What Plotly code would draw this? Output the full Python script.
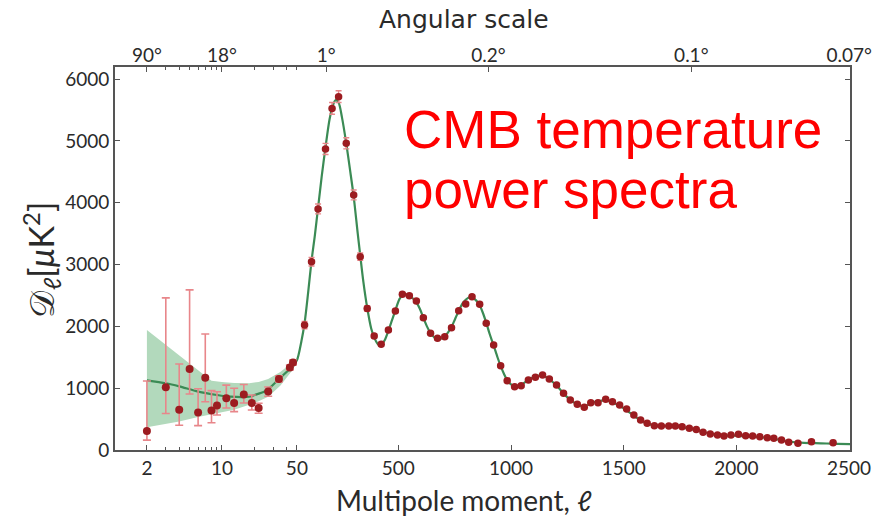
import math
import plotly.graph_objects as go

# ---- data -------------------------------------------------------------
# low multipoles: bandpower and the ends of each error bar
low_ell = [2, 3, 4, 5, 6, 7, 8, 9, 11, 13, 16, 19, 22, 27, 34, 43, 46]
low_D = [307, 1015, 652, 1310, 605, 1170, 640, 720, 838, 760, 898, 762, 680, 948, 1150, 1335, 1415]
low_top = [1116, 2460, 1390, 2590, 990, 1876, 960, 943, 1050, 1000, 1060, 890, 755, 1020, 1200, 1375, 1455]
low_bot = [160, 590, 400, 905, 395, 780, 440, 565, 680, 620, 760, 647, 594, 870, 1100, 1295, 1375]

# binned high multipoles
hi_ell = [84, 115, 144, 177, 206, 235, 269, 302, 331, 362, 393, 424, 456, 487, 518, 549,
          580, 611, 643, 674, 706, 736, 768, 799, 827, 861, 890, 923, 954, 983, 1016, 1045,
          1077, 1108, 1140, 1170, 1202, 1233, 1263, 1294, 1325, 1354, 1386, 1420, 1450, 1482,
          1513, 1545, 1575, 1604, 1636, 1667, 1700, 1729, 1759, 1791, 1822, 1852, 1884, 1916,
          1945, 1976, 2009, 2041, 2072, 2104, 2137, 2166, 2200, 2232, 2273, 2333, 2429]
hi_D = [2020, 3046, 3900, 4870, 5525, 5715, 4960, 4125, 3127, 2290, 1845, 1710, 1940, 2250,
        2518, 2496, 2410, 2140, 1887, 1806, 1833, 1979, 2254, 2361, 2480, 2357, 2050, 1699,
        1364, 1121, 1024, 1040, 1132, 1176, 1213, 1148, 1051, 917, 809, 739, 691, 765, 765,
        820, 782, 728, 663, 566, 485, 431, 393, 388, 388, 388, 377, 351, 330, 286, 257, 243,
        226, 243, 254, 232, 226, 216, 200, 189, 162, 124, 108, 135, 119]
hi_err = [60, 70, 80, 90, 95, 95, 90, 80, 60, 45, 35, 30, 30, 30, 30, 30, 30, 30, 28, 28,
          28, 28, 28, 28, 28, 28, 26, 26, 24, 24, 22, 22, 22, 22, 22, 22, 22, 20, 20, 20,
          20, 20, 20, 20, 20, 20, 20, 20, 20, 20, 20, 20, 20, 20, 20, 20, 20, 20, 20, 22,
          22, 22, 22, 22, 22, 24, 24, 24, 24, 26, 28, 30, 34]

# best-fit model curve
model_ell = [2, 3, 4, 6, 9, 12, 18, 21, 26, 34, 45, 50, 70, 84, 100, 115, 130, 144, 160, 177,
             195, 210, 222, 235, 250, 269, 285, 302, 320, 331, 345, 362, 380, 393, 410, 424,
             440, 456, 472, 487, 505, 520, 535, 549, 565, 580, 596, 611, 627, 643, 660, 674,
             690, 706, 720, 736, 752, 768, 785, 799, 815, 827, 845, 861, 875, 890, 905, 923,
             940, 954, 970, 983, 1000, 1016, 1030, 1045, 1060, 1077, 1092, 1108, 1125, 1140,
             1155, 1170, 1185, 1202, 1218, 1233, 1248, 1263, 1280, 1294, 1310, 1325, 1340,
             1354, 1370, 1386, 1403, 1420, 1435, 1450, 1466, 1482, 1498, 1513, 1530, 1545,
             1560, 1575, 1590, 1604, 1620, 1636, 1650, 1667, 1685, 1700, 1730, 1760, 1790,
             1820, 1850, 1880, 1910, 1945, 1980, 2010, 2040, 2070, 2100, 2140, 2180, 2220,
             2260, 2300, 2350, 2400, 2450, 2504]
model_D = [1127, 1080, 1030, 945, 890, 862, 862, 900, 960, 1148, 1347, 1450, 1760, 2050, 2550,
           3060, 3480, 3920, 4420, 4900, 5350, 5580, 5660, 5620, 5380, 4960, 4550, 4100, 3500,
           3150, 2720, 2300, 1960, 1820, 1710, 1700, 1780, 1930, 2100, 2260, 2440, 2510, 2520,
           2490, 2450, 2390, 2280, 2140, 2000, 1890, 1820, 1795, 1800, 1840, 1900, 1990, 2120,
           2250, 2370, 2430, 2470, 2470, 2420, 2340, 2220, 2060, 1880, 1690, 1500, 1360, 1220,
           1130, 1060, 1030, 1030, 1050, 1090, 1130, 1165, 1190, 1205, 1200, 1180, 1145, 1100,
           1045, 980, 915, 860, 810, 765, 735, 715, 710, 725, 750, 775, 790, 800, 800, 790,
           770, 745, 715, 680, 640, 595, 555, 515, 480, 450, 428, 410, 398, 392, 390, 388,
           385, 378, 365, 345, 320, 295, 270, 250, 237, 232, 230, 225, 218, 208, 192, 170,
           145, 125, 115, 110, 105, 100, 95]

# cosmic-variance band at low multipoles
band_ell = [2, 3, 4, 6, 8, 10, 13, 18, 22, 27, 35, 45, 50]
band_hi = [1940, 1700, 1530, 1290, 1120, 1100, 1085, 1080, 1100, 1150, 1260, 1410, 1470]
band_lo = [370, 420, 460, 535, 580, 615, 650, 730, 790, 860, 1040, 1280, 1420]

bottom_ticks = [2, 10, 50, 500, 1000, 1500, 2000, 2500]
minor_ticks = [3, 4, 5, 6, 7, 8, 9, 20, 30, 40]
top_tick_ell = [2, 10, 180, 900, 1800, 2500]
top_tick_text = ["90°", "18°", "1°", "0.2°", "0.1°", "0.07°"]
y_ticks = [0, 1000, 2000, 3000, 4000, 5000, 6000]


# ---- hybrid multipole scale: logarithmic below l=50, linear above ----
def lscale(ell):
    return ell if ell >= 50 else 50 + 476 * math.log10(ell / 50)


def tr(vals):
    return [lscale(v) for v in vals]


X_RANGE = [-757, 2504]
Y_RANGE = [0, 6195]

PT = "#9c1c20"
ERR = "#e8868a"
GREEN = "#3b8b55"
BAND = "#b2d9bc"
AXC = "#555555"
TXT = "#2a2a2a"
FONT = "Lato, DejaVu Sans, sans-serif"
TITLE_FONT = "DejaVu Sans, Lato, sans-serif"

fig = go.Figure()

fig.add_trace(go.Scatter(
    x=tr(band_ell) + tr(band_ell[::-1]), y=band_hi + band_lo[::-1],
    fill="toself", fillcolor=BAND, line=dict(width=0), mode="lines",
    hoverinfo="skip", showlegend=False))

fig.add_trace(go.Scatter(
    x=tr(model_ell), y=model_D, mode="lines",
    line=dict(color=GREEN, width=2.2, shape="spline", smoothing=0.8),
    showlegend=False))

fig.add_trace(go.Scatter(
    x=tr(low_ell), y=low_D, mode="markers",
    marker=dict(color=PT, size=8),
    error_y=dict(type="data", symmetric=False,
                 array=[t - d for t, d in zip(low_top, low_D)],
                 arrayminus=[d - b for d, b in zip(low_D, low_bot)],
                 color=ERR, thickness=1.6, width=4),
    showlegend=False))

fig.add_trace(go.Scatter(
    x=tr(hi_ell), y=hi_D, mode="markers",
    marker=dict(color=PT, size=7.5),
    error_y=dict(type="data", array=hi_err, color=ERR, thickness=1.4, width=3),
    showlegend=False))

# carrier for the angular-scale axis
fig.add_trace(go.Scatter(x=[X_RANGE[0]], y=[None], xaxis="x2", mode="markers",
                         showlegend=False, hoverinfo="skip"))

L, R, T, B = 115, 29, 67, 70
W, H = 884, 520
pw, ph = W - L - R, H - T - B


def px(x):
    return (x - L) / pw


def py(y):
    return (H - B - y) / ph


fig.update_layout(
    width=W, height=H,
    margin=dict(l=L, r=R, t=T, b=B),
    paper_bgcolor="white", plot_bgcolor="white",
    font=dict(family=FONT, color=TXT, size=18),
    xaxis=dict(range=X_RANGE, tickmode="array", tickvals=tr(bottom_ticks),
               ticktext=[str(v) for v in bottom_ticks], ticks="inside", ticklen=5,
               tickcolor=AXC, tickwidth=1.3, showline=True, linecolor=AXC, linewidth=1.6,
               mirror=True, showgrid=False, zeroline=False,
               tickfont=dict(family=FONT, size=19, color=TXT),
               minor=dict(tickmode="array", tickvals=tr(minor_ticks), ticks="inside",
                          ticklen=3, tickcolor=AXC, tickwidth=1)),
    xaxis2=dict(range=X_RANGE, overlaying="x", side="top", tickmode="array",
                tickvals=tr(top_tick_ell), ticktext=top_tick_text, ticks="inside",
                ticklen=5, tickcolor=AXC, tickwidth=1.3, showline=False, showgrid=False,
                zeroline=False, tickfont=dict(family=FONT, size=19, color=TXT),
                minor=dict(tickmode="array", tickvals=tr(minor_ticks + [50]),
                           ticks="inside", ticklen=3, tickcolor=AXC, tickwidth=1)),
    yaxis=dict(range=Y_RANGE, tickmode="array", tickvals=y_ticks, ticks="inside",
               ticklen=5, tickcolor=AXC, tickwidth=1.3, showline=True, linecolor=AXC,
               linewidth=1.6, mirror="ticks", showgrid=False, zeroline=False,
               tickfont=dict(family=FONT, size=19, color=TXT)),
)

fig.add_annotation(text="Angular scale", x=px(466), y=py(19), xref="paper", yref="paper",
                   showarrow=False, xanchor="center", yanchor="middle",
                   font=dict(family=TITLE_FONT, size=25, color=TXT))
fig.add_annotation(text="Multipole moment, ℓ", x=px(466), y=py(500), xref="paper",
                   yref="paper", showarrow=False, xanchor="center", yanchor="middle",
                   font=dict(family=FONT, size=28, color=TXT))
fig.add_annotation(text="𝒟<sub>ℓ</sub>[<i>μ</i>K<sup>2</sup>]", x=px(40), y=py(260),
                   xref="paper", yref="paper", showarrow=False, textangle=-90,
                   xanchor="center", yanchor="middle",
                   font=dict(family=FONT, size=34, color=TXT))

RED_FONT = "Liberation Sans, Arial, sans-serif"
fig.add_annotation(text="CMB temperature", x=px(404), y=py(129), xref="paper", yref="paper",
                   showarrow=False, xanchor="left", yanchor="middle",
                   font=dict(family=RED_FONT, size=53, color="#ff0000"))
fig.add_annotation(text="power spectra", x=px(404), y=py(189), xref="paper", yref="paper",
                   showarrow=False, xanchor="left", yanchor="middle",
                   font=dict(family=RED_FONT, size=53, color="#ff0000"))

fig.write_html("out.html")
